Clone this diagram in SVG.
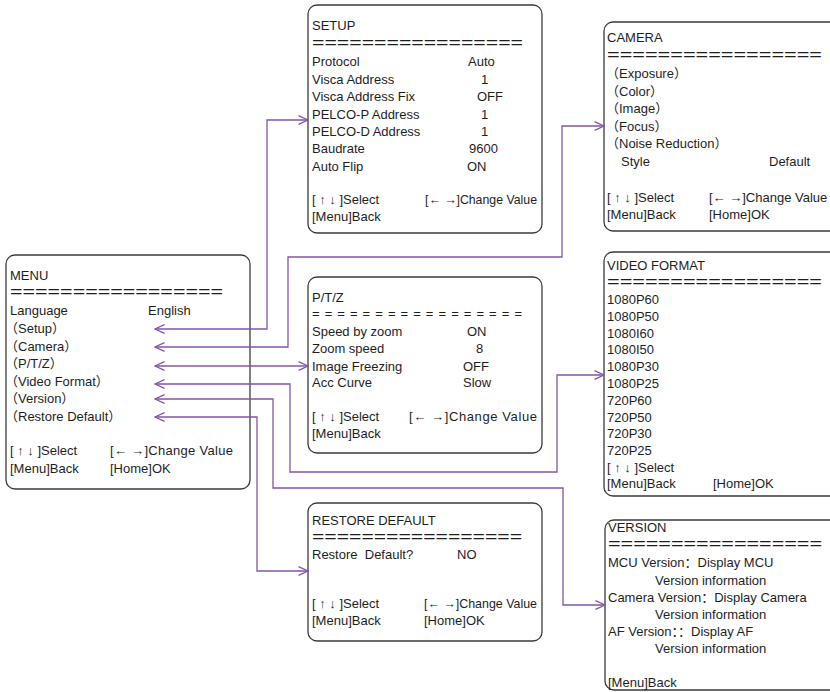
<svg xmlns="http://www.w3.org/2000/svg" width="830" height="692" viewBox="0 0 830 692">
<style>
  .box { fill: #ffffff; stroke: #3a3a3a; stroke-width: 1.3; }
  .t { font-family: "Liberation Sans", "Noto Sans CJK SC", sans-serif; font-size: 13px; fill: #1e1e1e; }
  .eq { font-family: "Liberation Sans", sans-serif; font-size: 16px; fill: #1e1e1e; }
  .eqs { font-family: "Liberation Sans", sans-serif; font-size: 13px; fill: #1e1e1e; }
  .c { fill: none; stroke: #8356a6; stroke-width: 1.3; marker-start: url(#ah); marker-end: url(#ah); }
</style>
<defs>
  <marker id="ah" viewBox="0 0 11 10" markerWidth="11" markerHeight="10" refX="10" refY="5" orient="auto-start-reverse" markerUnits="userSpaceOnUse">
    <path d="M0.5,0.7 L10,5 L0.5,9.3" fill="none" stroke="#8356a6" stroke-width="1.3"/>
  </marker>
</defs>
<rect width="830" height="692" fill="#ffffff"/>

<g id="menu">
  <rect class="box" x="6" y="255" width="244" height="234" rx="9"/>
  <text class="t" x="10" y="280">MENU</text>
  <text class="eq" x="10" y="297" textLength="213" lengthAdjust="spacingAndGlyphs">=================</text>
  <text class="t" x="10" y="315">Language</text>
  <text class="t" x="148" y="315">English</text>
  <text class="t" x="5" y="333">（Setup）</text>
  <text class="t" x="5" y="351">（Camera）</text>
  <text class="t" x="5" y="368">（P/T/Z）</text>
  <text class="t" x="5" y="386">（Video Format）</text>
  <text class="t" x="5" y="403">（Version）</text>
  <text class="t" x="5" y="421">（Restore Default）</text>
  <text class="t" x="10" y="455">[ ↑ ↓ ]Select</text>
  <text class="t" x="110" y="455" textLength="123" lengthAdjust="spacing">[← →]Change Value</text>
  <text class="t" x="10" y="473">[Menu]Back</text>
  <text class="t" x="110" y="473">[Home]OK</text>
</g>

<g id="setup">
  <rect class="box" x="308" y="5" width="234" height="228" rx="9"/>
  <text class="t" x="312" y="30">SETUP</text>
  <text class="eq" x="312" y="48" textLength="211" lengthAdjust="spacingAndGlyphs">=================</text>
  <text class="t" x="312" y="66">Protocol</text><text class="t" x="468" y="66">Auto</text>
  <text class="t" x="312" y="83.5">Visca Address</text><text class="t" x="481" y="83.5">1</text>
  <text class="t" x="312" y="101">Visca Address Fix</text><text class="t" x="477" y="101">OFF</text>
  <text class="t" x="312" y="118.5">PELCO-P Address</text><text class="t" x="481" y="118.5">1</text>
  <text class="t" x="312" y="136">PELCO-D Address</text><text class="t" x="481" y="136">1</text>
  <text class="t" x="312" y="153">Baudrate</text><text class="t" x="469" y="153">9600</text>
  <text class="t" x="312" y="170.5">Auto Flip</text><text class="t" x="467" y="170.5">ON</text>
  <text class="t" x="312" y="204">[ ↑ ↓ ]Select</text>
  <text class="t" x="425" y="204" textLength="112" lengthAdjust="spacingAndGlyphs">[← →]Change Value</text>
  <text class="t" x="312" y="221">[Menu]Back</text>
</g>

<g id="camera">
  <rect class="box" x="604" y="22" width="240" height="209" rx="9"/>
  <text class="t" x="607" y="42">CAMERA</text>
  <text class="eq" x="607" y="60" textLength="215" lengthAdjust="spacingAndGlyphs">=================</text>
  <text class="t" x="606" y="78">（Exposure）</text>
  <text class="t" x="606" y="96">（Color）</text>
  <text class="t" x="606" y="113">（Image）</text>
  <text class="t" x="606" y="131">（Focus）</text>
  <text class="t" x="606" y="148">（Noise Reduction）</text>
  <text class="t" x="621" y="166">Style</text>
  <text class="t" x="769" y="166">Default</text>
  <text class="t" x="607" y="202">[ ↑ ↓ ]Select</text>
  <text class="t" x="709" y="202">[← →]Change Value</text>
  <text class="t" x="607" y="219">[Menu]Back</text>
  <text class="t" x="709" y="219">[Home]OK</text>
</g>

<g id="ptz">
  <rect class="box" x="308" y="277" width="234" height="176" rx="9"/>
  <text class="t" x="312" y="302">P/T/Z</text>
  <text class="eqs" x="312" y="318" textLength="210" lengthAdjust="spacing">= = = = = = = = = = = = = = = = =</text>
  <text class="t" x="312" y="336">Speed by zoom</text><text class="t" x="467" y="336">ON</text>
  <text class="t" x="312" y="353">Zoom speed</text><text class="t" x="476" y="353">8</text>
  <text class="t" x="312" y="371">Image Freezing</text><text class="t" x="463" y="371">OFF</text>
  <text class="t" x="312" y="387">Acc Curve</text><text class="t" x="463" y="387">Slow</text>
  <text class="t" x="312" y="421">[ ↑ ↓ ]Select</text>
  <text class="t" x="409" y="421" textLength="128" lengthAdjust="spacing">[← →]Change Value</text>
  <text class="t" x="312" y="438">[Menu]Back</text>
</g>

<g id="video-format">
  <rect class="box" x="604" y="252" width="240" height="244" rx="9"/>
  <text class="t" x="607" y="270">VIDEO FORMAT</text>
  <text class="eq" x="607" y="287" textLength="215" lengthAdjust="spacingAndGlyphs">=================</text>
  <text class="t" x="607" y="304">1080P60</text>
  <text class="t" x="607" y="321">1080P50</text>
  <text class="t" x="607" y="338">1080I60</text>
  <text class="t" x="607" y="354">1080I50</text>
  <text class="t" x="607" y="371">1080P30</text>
  <text class="t" x="607" y="388">1080P25</text>
  <text class="t" x="607" y="405">720P60</text>
  <text class="t" x="607" y="422">720P50</text>
  <text class="t" x="607" y="438">720P30</text>
  <text class="t" x="607" y="455">720P25</text>
  <text class="t" x="607" y="472">[ ↑ ↓ ]Select</text>
  <text class="t" x="607" y="488">[Menu]Back</text>
  <text class="t" x="713" y="488">[Home]OK</text>
</g>

<g id="restore-default">
  <rect class="box" x="308" y="503" width="234" height="138" rx="9"/>
  <text class="t" x="312" y="525">RESTORE DEFAULT</text>
  <text class="eq" x="312" y="542" textLength="210" lengthAdjust="spacingAndGlyphs">=================</text>
  <text class="t" x="312" y="559" xml:space="preserve">Restore  Default?</text>
  <text class="t" x="457" y="559">NO</text>
  <text class="t" x="312" y="608">[ ↑ ↓ ]Select</text>
  <text class="t" x="424" y="608" textLength="113" lengthAdjust="spacingAndGlyphs">[← →]Change Value</text>
  <text class="t" x="312" y="625">[Menu]Back</text>
  <text class="t" x="424" y="625">[Home]OK</text>
</g>

<g id="version">
  <rect class="box" x="605" y="520" width="240" height="170" rx="9"/>
  <text class="t" x="608" y="532">VERSION</text>
  <text class="eq" x="608" y="549" textLength="214" lengthAdjust="spacingAndGlyphs">=================</text>
  <text class="t" x="608" y="567">MCU Version：Display MCU</text>
  <text class="t" x="655" y="585">Version information</text>
  <text class="t" x="608" y="602">Camera Version：Display Camera</text>
  <text class="t" x="655" y="619">Version information</text>
  <text class="t" x="608" y="636">AF Version：：Display AF</text>
  <text class="t" x="655" y="653">Version information</text>
  <text class="t" x="608" y="687">[Menu]Back</text>
</g>

<g id="connectors">
  <path class="c" d="M155,329 H267 V120 H308"/>
  <path class="c" d="M155,347 H288 V257 H562 V126 H604"/>
  <path class="c" d="M155,366 H308"/>
  <path class="c" d="M155,384 H290 V472 H557 V375 H604"/>
  <path class="c" d="M155,399 H273 V488 H563 V605 H605"/>
  <path class="c" d="M155,417 H257 V571 H308"/>
</g>
</svg>
